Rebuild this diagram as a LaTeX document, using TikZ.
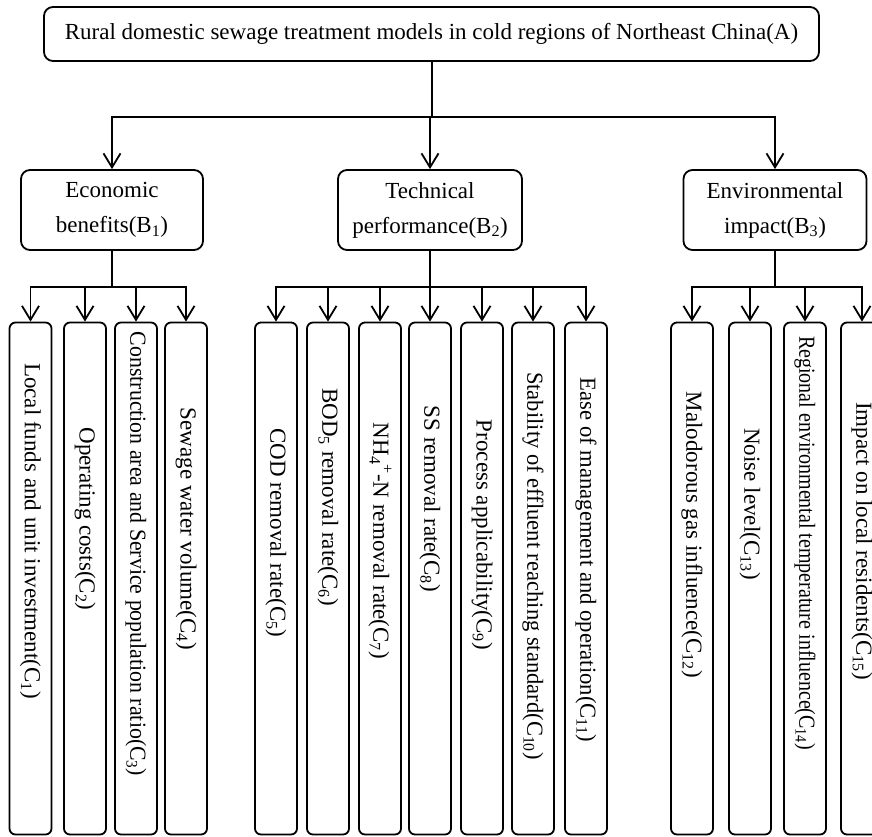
\documentclass[tikz,border=0pt]{standalone}
\usepackage{fontspec}
\usepackage{graphicx}
\setmainfont{Liberation Serif}
\usetikzlibrary{arrows.meta}

\begin{document}
\begin{tikzpicture}[x=1pt, y=-1pt,
  box/.style={draw, line width=1.8pt, rounded corners=9pt, inner sep=0pt, align=center, font=\fontsize{23}{35}\selectfont},
  cbox/.style={draw, line width=1.8pt, rounded corners=6pt, minimum width=42pt, minimum height=512pt, inner sep=0pt},
  ctext/.style={rotate=-90, inner sep=0pt, font=\fontsize{23}{28}\selectfont},
  link/.style={line width=2pt, line cap=rect},
  arr/.style={line width=1.8pt, -{Straight Barb[length=14pt, width=17pt]}}]
  \useasboundingbox (0,0) rectangle (872,836);
  \clip (0,0) rectangle (872,836);

  % objetivo y criterios
  \node[box, minimum width=775pt, minimum height=54pt] (a) at (431.5,34) {Rural domestic sewage treatment models in cold regions of Northeast China(A)};
  \node[box, minimum width=182pt, minimum height=80pt] (b1) at (112,210) {Economic\\benefits(B\textsubscript{1})};
  \node[box, minimum width=184pt, minimum height=80pt] (b2) at (430,210) {Technical\\performance(B\textsubscript{2})};
  \node[box, minimum width=183pt, minimum height=80pt] (b3) at (775,210) {Environmental\\impact(B\textsubscript{3})};

  % indicadores
  \foreach \x/\yt/\sx/\lab [count=\i] in {
    30.5/531/1/{Local funds and unit investment(C\textsubscript{1})},
    85/519/1/{Operating costs(C\textsubscript{2})},
    136/554/0.95/{Construction area and Service population ratio(C\textsubscript{3})},
    186/529/1/{Sewage water volume(C\textsubscript{4})},
    276/533/1/{COD removal rate(C\textsubscript{5})},
    328/497/1/{BOD\textsubscript{5} removal rate(C\textsubscript{6})},
    380/541/1/{NH\textsubscript{4}\textsuperscript{+}-N removal rate(C\textsubscript{7})},
    430/499/1/{SS removal rate(C\textsubscript{8})},
    482/535/1/{Process applicability(C\textsubscript{9})},
    533/566/0.98/{Stability of effluent reaching standard(C\textsubscript{10})},
    586/560/0.985/{Ease of management and operation(C\textsubscript{11})},
    692/535/1/{Malodorous gas influence(C\textsubscript{12})},
    750/504/1/{Noise level(C\textsubscript{13})},
    805/543/0.87/{Regional environmental temperature influence(C\textsubscript{14})},
    862/541/1/{Impact on local residents(C\textsubscript{15})}} {
    \node[cbox] (c\i) at (\x,578.5) {};
    \node[ctext] (t\i) at (\x,\yt) {\scalebox{\sx}[1]{\lab}};
  }

  % conexiones
  \path (a.south) ++(0,55) coordinate (ja);
  \draw[link] (a.south) -- (ja);
  \draw[link] (b1.north |- ja) -- (b3.north |- ja);
  \foreach \b in {b1,b2,b3}
    \draw[arr] (\b.north |- ja) -- (\b.north);

  \foreach \b/\f/\l in {1/1/4, 2/5/11, 3/12/15} {
    \path (b\b.south) ++(0,36) coordinate (j\b);
    \draw[link] (b\b.south) -- (j\b);
    \draw[link] (c\f.north |- j\b) -- (c\l.north |- j\b);
    \foreach \i in {\f,...,\l}
      \draw[arr] (c\i.north |- j\b) -- (c\i.north);
  }
\end{tikzpicture}
\end{document}
